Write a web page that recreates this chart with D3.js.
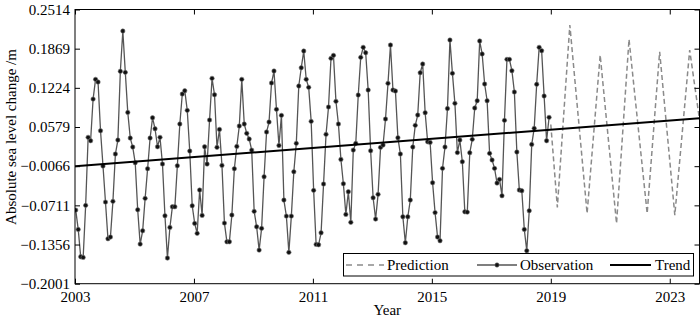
<!DOCTYPE html>
<html><head><meta charset="utf-8">
<script src="https://cdn.jsdelivr.net/npm/d3@7/dist/d3.min.js"></script>
<style>
html,body{margin:0;padding:0;background:#fff;}
svg text{font-family:"Liberation Serif","Times New Roman",serif;}
</style></head>
<body>
<svg id="chart" width="700" height="319"></svg>
<script>
// ---- data ----
const obsStartYear = 2003;           // monthly observations from Jan 2003
const obsValues = [
-0.0789,-0.1107,-0.1558,-0.1568,-0.0711,0.0409,0.0353,0.1039,0.1364,0.1319,0.0517,-0.0064,
-0.0657,-0.1261,-0.1233,-0.0645,0.0134,0.0364,0.1496,0.2159,0.1479,0.0820,0.0397,0.0249,
-0.0010,-0.0784,-0.1349,-0.1130,-0.0596,-0.0108,0.0397,0.0731,0.0550,0.0254,0.0409,-0.0031,
-0.0883,-0.1579,-0.1074,-0.0734,-0.0734,-0.0059,0.0628,0.1122,0.1176,0.0853,0.0183,-0.0718,
-0.1008,-0.1172,-0.0459,-0.0876,0.0254,-0.0031,0.0694,0.1380,0.1110,0.0244,0.0540,-0.0053,
-0.1003,-0.1311,-0.1311,-0.0871,-0.0108,0.0260,0.0595,0.1364,0.0628,0.0475,0.0381,0.0199,
-0.0810,-0.1064,-0.1448,-0.1090,-0.0240,0.0496,0.0661,0.1303,0.1501,0.0870,0.0274,0.0771,
-0.0624,-0.0888,-0.1485,-0.0888,-0.0158,0.0310,0.1254,0.1555,0.1830,0.1364,0.1232,0.0672,
-0.0464,-0.1354,-0.1360,-0.1163,-0.0360,0.0458,0.0908,0.1710,0.1759,0.1002,0.0628,0.0046,
-0.0356,-0.0860,-0.0487,-0.0991,0.0199,0.0310,0.1105,0.1726,0.1891,0.1802,0.1188,0.0188,
-0.0586,-0.0937,-0.0530,0.0244,0.0282,0.0710,0.1298,0.1929,0.1188,0.1171,0.0402,0.0134,
-0.0899,-0.1327,-0.0899,-0.0624,0.0249,0.0606,0.0776,0.1473,0.1616,0.0814,0.0336,0.0326,
-0.0339,-0.0830,-0.1233,-0.1294,-0.0102,0.0249,0.0883,0.2011,0.1463,0.0969,0.0158,0.0364,
0.0007,-0.0817,-0.0822,0.0155,0.0376,0.0891,0.1011,0.1995,0.1781,0.1287,0.1011,0.0145,
0.0035,-0.0102,-0.0344,-0.0283,-0.0553,0.0689,0.1693,0.1693,0.1506,0.1155,0.0167,-0.0459,
-0.0471,-0.1107,-0.1459,-0.0800,0.0293,0.0557,0.1282,0.1891,0.1835,0.1089,0.0353,0.0738
];
const predYears  = [2019.0, 2019.22, 2019.64, 2020.22, 2020.66, 2021.21, 2021.63, 2022.24, 2022.66, 2023.17, 2023.67, 2024.0];
const predValues = [0.062, -0.0744, 0.2258, -0.0843, 0.1764, -0.1008, 0.2023, -0.0843, 0.1819, -0.0871, 0.1847, 0.070];
const trendYears  = [2003, 2024];
const trendValues = [-0.0066, 0.0722];
const xTicks = [2003, 2007, 2011, 2015, 2019, 2023];
const yTicks = [-0.2001, -0.1356, -0.0711, -0.0066, 0.0579, 0.1224, 0.1869, 0.2514];
const legendLabels = ["Prediction", "Observation", "Trend"];

// ---- layout ----
const L = 75, R = 699.5, T = 9.5, B = 283.7;
const svg = d3.select("#chart");
const x = d3.scaleLinear().domain([2003, 2024]).range([L, R]);
const y = d3.scaleLinear().domain([-0.2001, 0.2514]).range([B, T]);

const obs = obsValues.map((v, i) => ({t: obsStartYear + (i + 0.3) / 12, v}));
const pred = predYears.map((t, i) => ({t, v: predValues[i]}));
const trend = trendYears.map((t, i) => ({t, v: trendValues[i]}));

svg.append("defs").append("clipPath").attr("id", "clip")
  .append("rect").attr("x", L).attr("y", T).attr("width", R - L).attr("height", B - T);

const line = d3.line().x(d => x(d.t)).y(d => y(d.v));
const g = svg.append("g").attr("clip-path", "url(#clip)");

g.append("path").datum(pred).attr("d", line)
  .attr("fill", "none").attr("stroke", "#8a8a8a").attr("stroke-width", 1.5)
  .attr("stroke-dasharray", "5,3");

g.append("path").datum(obs).attr("d", line)
  .attr("fill", "none").attr("stroke", "#555").attr("stroke-width", 1.3);

g.selectAll("circle.obs").data(obs).enter().append("circle")
  .attr("class", "obs").attr("cx", d => x(d.t)).attr("cy", d => y(d.v))
  .attr("r", 2.2).attr("fill", "#111").attr("stroke", "#777").attr("stroke-width", 0.6);

g.append("path").datum(trend).attr("d", line)
  .attr("fill", "none").attr("stroke", "#000").attr("stroke-width", 2);

// ---- axes ----
const fmt = d3.format(".4f");
const axL = svg.append("g").attr("transform", `translate(${L},0)`)
  .call(d3.axisLeft(y).tickValues(yTicks).tickSize(-5).tickPadding(5).tickFormat(fmt));
const axR = svg.append("g").attr("transform", `translate(${R},0)`)
  .call(d3.axisRight(y).tickValues(yTicks).tickSize(-5).tickFormat(""));
const axB = svg.append("g").attr("transform", `translate(0,${B})`)
  .call(d3.axisBottom(x).tickValues(xTicks).tickSize(-5).tickPadding(8).tickFormat(d3.format("d")));
const axT = svg.append("g").attr("transform", `translate(0,${T})`)
  .call(d3.axisTop(x).tickValues(xTicks).tickSize(-5).tickFormat(""));
[axL, axR, axB, axT].forEach(a => {
  a.select(".domain").remove();
  a.selectAll("line").attr("stroke", "#000");
  a.selectAll("text").attr("font-size", 15).attr("fill", "#000")
   .attr("font-family", "'Liberation Serif','Times New Roman',serif");
});

svg.append("rect").attr("x", L).attr("y", T).attr("width", R - L).attr("height", B - T)
  .attr("fill", "none").attr("stroke", "#000").attr("stroke-width", 1);

// axis titles
svg.append("text").attr("x", (L + R) / 2).attr("y", 315).attr("text-anchor", "middle")
  .attr("font-size", 15).text("Year");
svg.append("text").attr("transform", "translate(16,137) rotate(-90)")
  .attr("text-anchor", "middle").attr("font-size", 15).text("Absolute sea level change /m");

// ---- legend ----
const lg = svg.append("g");
lg.append("rect").attr("x", 343.5).attr("y", 253.5).attr("width", 350).attr("height", 22.5)
  .attr("fill", "#fff").attr("stroke", "#000").attr("stroke-width", 1);
const ly = 265;
const items = [
  {x0: 346, x1: 384, tx: 387, style: "pred"},
  {x0: 477, x1: 517, tx: 520, style: "obs"},
  {x0: 610, x1: 651, tx: 655, style: "trend"}
];
items.forEach((it, i) => {
  const ln = lg.append("line").attr("x1", it.x0).attr("x2", it.x1).attr("y1", ly).attr("y2", ly);
  if (it.style === "pred") ln.attr("stroke", "#8a8a8a").attr("stroke-width", 1.5).attr("stroke-dasharray", "6,5");
  if (it.style === "obs") {
    ln.attr("stroke", "#555").attr("stroke-width", 1.3);
    lg.append("circle").attr("cx", (it.x0 + it.x1) / 2).attr("cy", ly).attr("r", 2.2)
      .attr("fill", "#111").attr("stroke", "#777").attr("stroke-width", 0.6);
  }
  if (it.style === "trend") ln.attr("stroke", "#000").attr("stroke-width", 2);
  lg.append("text").attr("x", it.tx).attr("y", ly + 5).attr("font-size", 15).text(legendLabels[i]);
});
</script>
</body></html>
